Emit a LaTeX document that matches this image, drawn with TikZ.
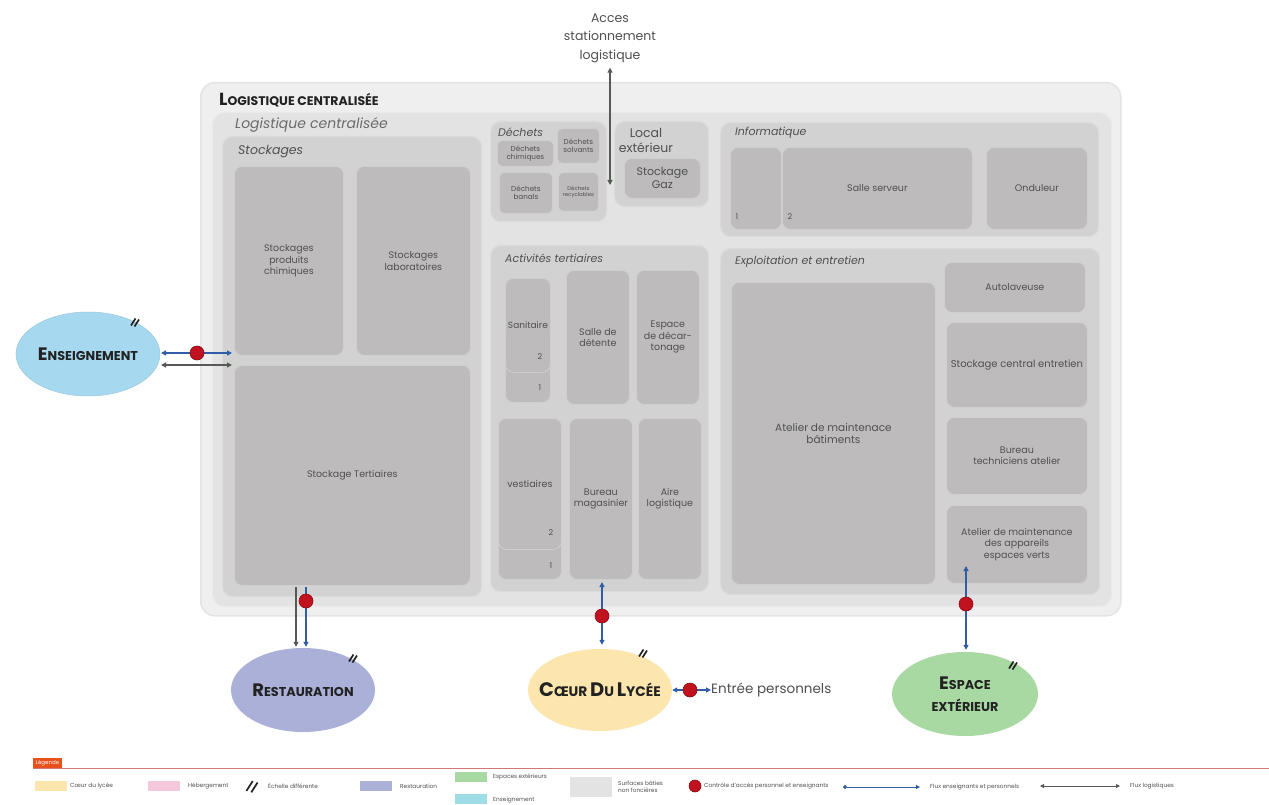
\documentclass[tikz,border=0pt]{standalone}
\usepackage{fontspec}
\setmainfont{Poppins}
\usetikzlibrary{shapes.geometric,arrows.meta,calc}
\definecolor{outerc}{HTML}{EFEFEF}
\definecolor{outerd}{HTML}{E4E4E4}
\definecolor{innerc}{HTML}{E3E3E3}
\definecolor{innerd}{HTML}{EAEAEA}
\definecolor{groupc}{HTML}{D2D2D2}
\definecolor{groupd}{HTML}{DBDBDB}
\definecolor{leafc}{HTML}{BDBBBB}
\definecolor{leafd}{HTML}{CFCFCF}
\definecolor{txtc}{HTML}{505050}
\definecolor{titc}{HTML}{222222}
\definecolor{arrblue}{HTML}{2F5DA6}
\definecolor{arrgray}{HTML}{555A55}
\definecolor{dotred}{HTML}{C1121F}
\definecolor{dotdark}{HTML}{8A0A12}
\definecolor{ensc}{HTML}{A6D8F0}
\definecolor{restc}{HTML}{AAB0D8}
\definecolor{coeurc}{HTML}{FCE6AE}
\definecolor{espc}{HTML}{A9D9A3}
\definecolor{hebc}{HTML}{F4C7DC}
\definecolor{cyanc}{HTML}{9FDDE6}
\definecolor{legor}{HTML}{E8501C}
\definecolor{legline}{HTML}{D07878}
\newcommand\fsc[4]{{\fontsize{#1}{#1}\selectfont #3}{\fontsize{#2}{#2}\selectfont #4}}
\newcommand\bx[7][leaf]{%
  \pgfmathsetmacro\bxw{#5-#3}%
  \pgfmathsetmacro\bxh{#6-#4}%
  \node[#1, anchor=north west, minimum width=\bxw pt, minimum height=\bxh pt] (#2) at (#3,#4) {#7};}
\begin{document}
\begin{tikzpicture}[x=1pt,y=-1pt,
  outerbox/.style={fill=outerc, draw=outerd, line width=1.5pt, rounded corners=14pt, inner sep=0pt},
  innerbox/.style={fill=innerc, draw=innerd, line width=1.2pt, rounded corners=12pt, inner sep=0pt},
  groupbox/.style={fill=groupc, draw=groupd, line width=1.2pt, rounded corners=10pt, inner sep=0pt},
  leaf/.style={fill=leafc, draw=leafd, line width=0.8pt, rounded corners=8pt, inner sep=1pt, align=center, text=txtc, font=\fontsize{9.5}{11.5}\selectfont},
  tiny/.style={leaf, font=\fontsize{7.2}{8.2}\selectfont, rounded corners=5pt},
  tinier/.style={leaf, font=\fontsize{5.4}{6.2}\selectfont, rounded corners=5pt},
  grptitle/.style={anchor=west, inner sep=0pt, text=txtc, font=\fontsize{11}{12}\selectfont\itshape},
  numlab/.style={inner sep=0pt, text=txtc, font=\fontsize{8}{9}\selectfont},
  oval/.style={ellipse, inner sep=0pt, minimum width=144pt, minimum height=82pt},
  ovaltext/.style={inner sep=0pt, align=center, text=titc, font=\bfseries\fontsize{13}{16}\selectfont},
  blu/.style={draw=arrblue, line width=1.3pt, arrows={Triangle[length=5pt,width=5pt]-Triangle[length=5pt,width=5pt]}},
  bluone/.style={draw=arrblue, line width=1.3pt, arrows={-Triangle[length=5pt,width=5pt]}},
  logi/.style={draw=arrgray, line width=1.3pt, arrows={Triangle[length=5pt,width=5pt]-Triangle[length=5pt,width=5pt]}},
  logione/.style={draw=arrgray, line width=1.3pt, arrows={-Triangle[length=5pt,width=5pt]}},
  reddot/.style={circle, fill=dotred, draw=dotdark, line width=0.6pt, minimum size=14pt, inner sep=0pt},
  hashmark/.pic={\draw[line width=1.7pt, titc] (-4,3.5) -- (0.5,-3.5); \draw[line width=1.7pt, titc] (-0.5,4.5) -- (4,-2.5);},
  legtxt/.style={anchor=west, inner sep=0pt, text=txtc, font=\fontsize{5.8}{6.8}\selectfont, align=left},
  swatch/.style={inner sep=0pt, minimum width=32pt, minimum height=10pt, anchor=west}
]
\useasboundingbox (0,0) rectangle (1269,805);
\fill[white] (0,0) rectangle (1269,805);

% --- main containers
\bx[outerbox]{outer}{200}{82}{1120}{615}{}
\node[anchor=west, inner sep=0pt, text=titc, font=\bfseries] (tOuter) at (219,100) {\fsc{17.5}{12.5}{L}{OGISTIQUE CENTRALISÉE}};
\bx[innerbox]{inner}{212}{112}{1111}{606}{}
\node[anchor=west, inner sep=0pt, text=txtc!85, font=\fontsize{14}{15}\selectfont\itshape] (tInner) at (235,125) {Logistique centralisée};

% --- Stockages
\bx[groupbox]{stk}{222}{136}{481}{596}{}
\node[grptitle, font=\fontsize{12.5}{13}\selectfont\itshape] (tStk) at (238,152) {Stockages};
\bx{spc}{234}{166}{343}{355}{Stockages\\produits\\chimiques}
\bx{slab}{356}{166}{470}{355}{Stockages\\laboratoires}
\bx{stert}{234}{365}{470}{585}{Stockage Tertiaires}

% --- Dechets
\bx[groupbox]{dech}{490}{121}{606}{221}{}
\node[grptitle] (tDech) at (498,132) {Déchets};
\bx[tiny]{dchim}{497}{140}{553}{166}{Déchets\\chimiques}
\bx[tiny]{dsolv}{557}{128}{599}{163}{Déchets\\solvants}
\bx[tiny]{dban}{499}{172}{552}{213}{Déchets\\banals}
\bx[tinier]{drec}{558}{172}{598}{211}{Déchets\\recyclables}

% --- Local exterieur
\bx[groupbox]{loc}{614}{121}{708}{206}{}
\node[inner sep=0pt, align=center, text=txtc, font=\fontsize{12.5}{15}\selectfont] (tLoc) at (646,140) {Local\\extérieur};
\bx[leaf, font=\fontsize{11}{13}\selectfont]{gaz}{624}{158}{700}{198}{Stockage\\Gaz}

% --- Informatique
\bx[groupbox]{info}{720}{122}{1098}{236}{}
\node[grptitle] (tInfo) at (735,133) {Informatique};
\bx{inf1}{730}{147}{781}{229}{}
\bx{srv}{782}{147}{972}{229}{Salle serveur}
\bx{ond}{986}{147}{1087}{229}{Onduleur}
\node[numlab] (n1i) at (737,217) {1};
\node[numlab] (n2i) at (790,217) {2};

% --- Activites tertiaires
\bx[groupbox]{act}{490}{245}{708}{591}{}
\node[grptitle] (tAct) at (505,258) {Activités tertiaires};
\bx{san1}{505}{278}{550}{402}{}
\bx[leaf, font=\fontsize{9}{11}\selectfont]{san2}{505}{278}{550}{372}{Sanitaire}
\node[numlab] (ns2) at (540,357) {2};
\node[numlab] (ns1) at (540,388) {1};
\bx{det}{566}{270}{629}{404}{Salle de\\détente}
\bx{dec}{636}{270}{699}{404}{Espace\\de décar-\\tonage}
\bx{ves1}{498}{418}{561}{579}{}
\bx{ves2}{498}{418}{561}{549}{vestiaires}
\node[numlab] (nv2) at (551,533) {2};
\node[numlab] (nv1) at (551,566) {1};
\bx{bmag}{569}{418}{632}{579}{Bureau\\magasinier}
\bx{aire}{638}{418}{701}{579}{Aire\\logistique}

% --- Exploitation et entretien
\bx[groupbox]{expl}{720}{248}{1099}{594}{}
\node[grptitle] (tExpl) at (735,262) {Exploitation et entretien};
\bx[leaf, font=\fontsize{10.5}{12}\selectfont]{atb}{731}{282}{935}{584}{Atelier de maintenace\\bâtiments}
\bx{auto}{944}{262}{1085}{312}{Autolaveuse}
\bx[leaf, font=\fontsize{10}{12}\selectfont]{stce}{946}{322}{1087}{407}{Stockage central entretien}
\bx{btech}{946}{417}{1087}{494}{Bureau\\techniciens atelier}
\bx{amev}{946}{505}{1087}{583}{Atelier de maintenance\\des appareils\\espaces verts}

% --- Acces stationnement
\node[inner sep=0pt, align=center, text=txtc, font=\fontsize{12.5}{18.5}\selectfont] (acces) at (610,38) {Acces\\stationnement\\logistique};
\coordinate (accB) at (610,185);
\draw[logi] ([yshift=-5pt]acces.south) -- (accB);

% --- Ellipses
\node[oval, fill=ensc, draw=ensc!80!gray, line width=0.5pt, minimum height=84pt] (ens) at (88,354) {};
\node[ovaltext] (ensT) at (ens.center) {\fsc{18}{12.8}{E}{NSEIGNEMENT}};
\node[oval, fill=restc, minimum height=84pt] (rest) at (303,690) {};
\node[ovaltext] (restT) at (rest.center) {\fsc{18}{12.8}{R}{ESTAURATION}};
\node[oval, fill=coeurc] (coeur) at (600,690) {};
\node[ovaltext] (coeurTx) at (coeur.center) {\fsc{19.5}{13.8}{C}{ŒUR} \fsc{19.5}{13.8}{D}{U} \fsc{19.5}{13.8}{L}{YCÉE}};
\node[oval, fill=espc, minimum width=146pt, minimum height=84pt] (esp) at (965,694) {};
\node[ovaltext] (espTx) at (esp.center) {\fsc{18}{12.8}{E}{SPACE}\\[6pt]{\fontsize{12.8}{13}\selectfont EXTÉRIEUR}};
\pic at (135,322) {hashmark};
\pic at (353,658) {hashmark};
\pic at (643,653) {hashmark};
\pic at (1013,665) {hashmark};

% --- Enseignement connectors
\coordinate (ensB1) at (161,353);
\coordinate (ensB2) at (232,353);
\coordinate (ensG1) at (161,365);
\coordinate (ensG2) at (232,365);
\draw[blu] (ensB1) -- (ensB2);
\draw[logi] (ensG1) -- (ensG2);
\node[reddot] (dEns) at (197,353) {};

% --- Restauration connectors
\coordinate (restG0) at (296,587);
\coordinate (restB0) at (306,587);
\draw[logione] (restG0) -- ([yshift=1pt]restG0 |- rest.north);
\draw[bluone] (restB0) -- ([yshift=1pt]restB0 |- rest.north);
\node[reddot] (dRest) at (306,601) {};

% --- Coeur connectors
\coordinate (coeurT) at (602,582);
\draw[blu] (coeurT) -- ([yshift=4pt]coeurT |- coeur.north);
\node[reddot] (dCoeur) at (602,616) {};
\node[anchor=west, inner sep=0pt, text=txtc, font=\fontsize{13.5}{14}\selectfont] (entree) at (711,690) {Entrée personnels};
\draw[blu] (coeur.east) -- (entree.west);
\node[reddot] (dEntree) at (690,690) {};

% --- Espace exterieur connectors
\coordinate (espT) at (966,566);
\draw[blu] (espT) -- ([yshift=2pt]espT |- esp.north);
\node[reddot] (dEsp) at (966,604) {};

% --- Legend
\node[fill=legor, text=white, font=\fontsize{5.5}{6}\selectfont, inner sep=2.5pt, anchor=south west] (leg) at (33,768.5) {Légende};
\coordinate (legL) at (33,768.5);
\coordinate (legR) at (1269,768.5);
\draw[legline, line width=0.9pt] (legL) -- (legR);

\node[swatch, fill=coeurc] (sw1) at (35,786) {};
\node[legtxt] (lt1) at (70,786) {Cœur du lycée};
\node[swatch, fill=hebc] (sw2) at (148,786) {};
\node[legtxt] (lt2) at (188,786) {Hébergement};
\pic[scale=1.4] at (252,786) {hashmark};
\node[legtxt] (lt3) at (268,786) {Échelle différente};
\node[swatch, fill=restc] (sw4) at (360,786) {};
\node[legtxt] (lt4) at (400,786) {Restauration};
\node[swatch, fill=espc] (sw5) at (455,777) {};
\node[legtxt] (lt5) at (493,777) {Espaces extérieurs};
\node[swatch, fill=cyanc] (sw6) at (455,799) {};
\node[legtxt] (lt6) at (493,800) {Enseignement};
\node[swatch, fill=innerc, minimum width=42pt, minimum height=20pt] (sw7) at (570,787) {};
\node[legtxt] (lt7) at (618,787) {Surfaces bâties\\non foncières};
\node[reddot, minimum size=12pt] (sw8) at (695,786) {};
\node[legtxt] (lt8) at (704,786) {Contrôle d'accès personnel et enseignants};
\coordinate (fb1) at (843,787);
\coordinate (fb2) at (920,787);
\draw[draw=arrblue, line width=1pt, arrows={Circle[length=4pt]-Triangle[length=4pt,width=4pt]}] (fb1) -- (fb2);
\node[legtxt] (lt9) at (930,787) {Flux enseignants et personnels};
\coordinate (fl1) at (1040,786);
\coordinate (fl2) at (1120,786);
\draw[draw=arrgray, line width=1pt, arrows={Triangle[length=4pt,width=4pt]-Triangle[length=4pt,width=4pt]}] (fl1) -- (fl2);
\node[legtxt] (lt10) at (1130,786) {Flux logistiques};
\end{tikzpicture}
\end{document}
